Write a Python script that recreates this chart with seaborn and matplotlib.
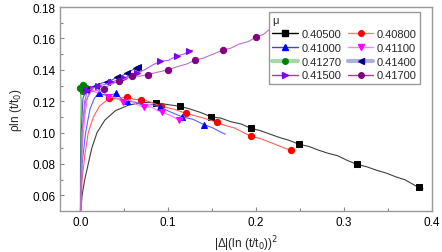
import numpy as np
import pandas as pd
import seaborn as sns
import matplotlib
matplotlib.use("Agg")
import matplotlib.pyplot as plt
from matplotlib.lines import Line2D

# mu values
mu_labels = ["0.40500", "0.40800", "0.41000", "0.41100",
             "0.41270", "0.41400", "0.41500", "0.41700"]

x_405 = [0.0005, 0.002, 0.005, 0.009, 0.013, 0.019, 0.028, 0.040, 0.055, 0.070, 0.086, 0.100, 0.113,
         0.125, 0.137, 0.149, 0.160, 0.172, 0.183, 0.194, 0.205, 0.216, 0.227, 0.238, 0.249, 0.260,
         0.271, 0.282, 0.293, 0.304, 0.315, 0.326, 0.337, 0.348, 0.359, 0.370, 0.378, 0.385, 0.390]
y_405 = [0.050, 0.060, 0.070, 0.080, 0.090, 0.100, 0.108, 0.114, 0.1175, 0.1192, 0.119, 0.1178, 0.1168,
         0.1150, 0.1128, 0.110, 0.1092, 0.1068, 0.1055, 0.1027, 0.1012, 0.0990, 0.0968, 0.0950, 0.0925,
         0.0912, 0.0888, 0.0868, 0.0852, 0.0822, 0.0797, 0.0782, 0.0760, 0.0742, 0.0718, 0.0698, 0.0672,
         0.065, 0.0642]
m_405 = [10, 12, 15, 19, 24, 30, 37]

x_408 = [0.0005, 0.002, 0.005, 0.009, 0.015, 0.022, 0.033, 0.043, 0.053, 0.061, 0.069, 0.080, 0.092,
         0.106, 0.120, 0.137, 0.155, 0.165, 0.175, 0.185, 0.194, 0.205, 0.215, 0.225, 0.233, 0.240]
y_408 = [0.050, 0.070, 0.085, 0.100, 0.110, 0.117, 0.1218, 0.1215, 0.123, 0.1212, 0.121, 0.1195, 0.1167,
         0.1150, 0.1123, 0.1098, 0.1066, 0.1045, 0.1030, 0.1002, 0.0976, 0.0962, 0.0940, 0.0918, 0.0900,
         0.0886]
m_408 = [6, 8, 10, 12, 14, 16, 20, 25]

x_410 = [0.0003, 0.002, 0.006, 0.011, 0.016, 0.021, 0.031, 0.041, 0.047, 0.053, 0.062, 0.072, 0.082,
         0.091, 0.104, 0.116, 0.128, 0.141, 0.150, 0.158, 0.165]
y_410 = [0.050, 0.080, 0.100, 0.115, 0.122, 0.125, 0.1235, 0.125, 0.1215, 0.120, 0.1195, 0.1172, 0.1178,
         0.116, 0.1128, 0.110, 0.1085, 0.105, 0.1032, 0.1008, 0.099]
m_410 = [5, 7, 9, 13, 15, 17]

x_411 = [0.0002, 0.002, 0.005, 0.008, 0.011, 0.018, 0.025, 0.032, 0.040, 0.048, 0.056, 0.064, 0.072,
         0.080, 0.088, 0.093, 0.100, 0.106, 0.112, 0.116]
y_411 = [0.050, 0.090, 0.110, 0.122, 0.128, 0.1255, 0.1265, 0.1225, 0.1225, 0.1195, 0.121, 0.118, 0.116,
         0.1165, 0.114, 0.113, 0.1115, 0.110, 0.108, 0.1085]
m_411 = [4, 7, 9, 12, 15, 18]

x_4127 = [0.0, 0.0002, 0.0005, 0.001, 0.0, 0.003, 0.006, 0.003, 0.003]
y_4127 = [0.050, 0.080, 0.100, 0.120, 0.1285, 0.1305, 0.1285, 0.1265, 0.1285]
m_4127 = [4, 5, 6, 7, 8]

x_414 = [0.0002, 0.001, 0.003, 0.007, 0.012, 0.018, 0.024, 0.030, 0.036, 0.042, 0.048, 0.053, 0.058,
         0.063, 0.066]
y_414 = [0.050, 0.100, 0.122, 0.127, 0.1285, 0.130, 0.1315, 0.1325, 0.1335, 0.1355, 0.1365, 0.138,
         0.1395, 0.141, 0.142]
m_414 = [3, 5, 7, 9, 11, 13, 14]

x_415 = [0.0002, 0.002, 0.005, 0.008, 0.014, 0.020, 0.027, 0.035, 0.042, 0.050, 0.058, 0.065, 0.073,
         0.082, 0.091, 0.100, 0.110, 0.118, 0.124, 0.128]
y_415 = [0.050, 0.100, 0.120, 0.127, 0.128, 0.130, 0.1305, 0.132, 0.1335, 0.135, 0.1365, 0.138, 0.140,
         0.143, 0.1455, 0.146, 0.149, 0.150, 0.152, 0.1525]
m_415 = [3, 5, 7, 9, 11, 14, 16, 18]

x_417 = [0.0002, 0.002, 0.006, 0.012, 0.020, 0.027, 0.035, 0.044, 0.052, 0.059, 0.068, 0.077, 0.088,
         0.100, 0.110, 0.120, 0.130, 0.140, 0.151, 0.162, 0.172, 0.181, 0.191, 0.200, 0.208, 0.216,
         0.225, 0.235]
y_417 = [0.050, 0.100, 0.120, 0.126, 0.127, 0.128, 0.131, 0.1327, 0.1345, 0.136, 0.136, 0.137, 0.1385,
         0.140, 0.142, 0.1435, 0.146, 0.1475, 0.150, 0.1525, 0.154, 0.1565, 0.158, 0.161, 0.1625, 0.166,
         0.168, 0.170]
m_417 = [5, 7, 9, 11, 13, 16, 19, 23]

series = [
    (x_405, y_405, m_405, "#404040", "black", "s", "black", 1.0),
    (x_408, y_408, m_408, "#ff6060", "red", "o", "#ff8080", 1.0),
    (x_410, y_410, m_410, "#6060ff", "blue", "^", "#4040ff", 1.0),
    (x_411, y_411, m_411, "#ff70ff", "magenta", "v", "#ff80ff", 1.0),
    (x_4127, y_4127, m_4127, "#40b040", "green", "o", "#a8d8a8", 3.0),
    (x_414, y_414, m_414, "#5050c0", "navy", "<", "#b0b0d8", 3.0),
    (x_415, y_415, m_415, "#a060ff", "#8000ff", ">", "#8040ff", 1.0),
    (x_417, y_417, m_417, "#c070c0", "purple", "o", "#a040a0", 1.0),
]

sns.set_style("ticks")
plt.rcParams["font.family"] = ["Liberation Sans", "DejaVu Sans"]

fig = plt.figure(figsize=(4.42, 2.53), dpi=100)
ax = fig.add_axes([0.136, 0.162, 0.841, 0.806])

handles = []
for (xs, ys, marks, lc, mc, mk, leg_lc, leg_lw), lab in zip(series, mu_labels):
    df = pd.DataFrame({"x": xs, "y": ys})
    sns.lineplot(data=df, x="x", y="y", sort=False, estimator=None, ax=ax,
                 color=lc, lw=0.8, marker=mk, markevery=marks, markersize=4.5,
                 markerfacecolor=mc, markeredgecolor=mc)
    handles.append(Line2D([], [], color=leg_lc, lw=leg_lw, marker=mk, markersize=4,
                          markerfacecolor=mc, markeredgecolor=mc, label=lab))

ax.set_xlim(-0.023, 0.4)
ax.set_ylim(0.05, 0.18)
ax.set_xticks([0.0, 0.1, 0.2, 0.3, 0.4])
ax.set_xticklabels(["0.0", "0.1", "0.2", "0.3", "0.4"])
ax.set_xticks([0.05, 0.15, 0.25, 0.35], minor=True)
ax.set_yticks([0.06, 0.08, 0.10, 0.12, 0.14, 0.16, 0.18])
ax.set_yticks([0.07, 0.09, 0.11, 0.13, 0.15, 0.17], minor=True)
ax.tick_params(which="both", direction="in", colors="#888888", labelcolor="black", labelsize=8.5,
               top=False, right=False)
ax.tick_params(which="major", length=3, width=0.8)
ax.tick_params(which="minor", length=2, width=0.8)
for sp in ax.spines.values():
    sp.set_visible(True)
    sp.set_color("#999999")
    sp.set_linewidth(1.0)

ax.set_xlabel("|Δ|(ln (t/t$_0$))$^2$", fontsize=8.5, labelpad=4)
ax.set_ylabel("ρln (t/t$_0$)", fontsize=8.5, labelpad=6)

# row-major order in the legend: matplotlib fills columns first
order = [0, 2, 4, 6, 1, 3, 5, 7]
leg = ax.legend(handles=[handles[i] for i in order], ncol=2, title="μ", loc="upper left",
                bbox_to_anchor=(0.562, 0.978), fontsize=8, title_fontsize=8,
                handlelength=2.3, handletextpad=0.3, columnspacing=0.6,
                labelspacing=0.35, borderpad=0.3, fancybox=False, framealpha=1,
                alignment="left", borderaxespad=0)
leg.get_frame().set_edgecolor("#999999")
leg.get_frame().set_linewidth(1.0)

fig.savefig("out.png", dpi=100)
